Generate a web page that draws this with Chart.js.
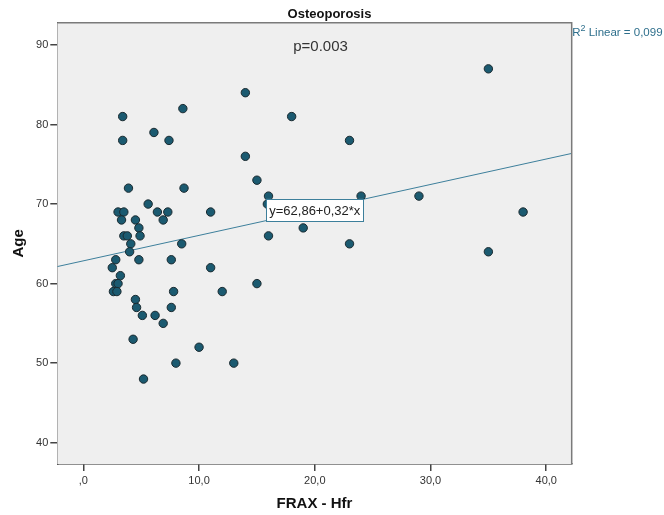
<!DOCTYPE html>
<html>
<head>
<meta charset="utf-8">
<script src="https://cdn.jsdelivr.net/npm/chart.js@4"></script>
<style>
  html, body { margin: 0; padding: 0; background: #ffffff; }
  #wrap { width: 664px; height: 515px; position: relative; }
</style>
</head>
<body>
<div id="wrap"><canvas id="chart" width="664" height="515"></canvas></div>
<script>
// FRAX hip-fracture risk vs. age, osteoporosis group
const frax = [3.4, 8.6, 14, 6.1, 3.4, 7.4, 14, 15, 3.9, 8.7, 5.6, 3.0, 3.5, 6.4, 7.3, 11,
  3.3, 4.5, 6.9, 4.8, 3.5, 3.8, 4.9, 8.5, 4.1, 4.0, 2.8, 4.8, 7.6, 2.5, 11, 3.2,
  2.8, 3.0, 15, 2.6, 2.9, 7.8, 12, 4.5, 4.6, 7.6, 5.1, 6.2, 6.9, 4.3, 10, 8, 13, 5.2,
  35, 18, 23, 16, 15.9, 24, 29, 38, 19, 16, 23, 35];
const age = [81, 82, 84, 79, 78, 78, 76, 73, 72, 72, 70, 69, 69, 69, 69, 69,
  68, 68, 68, 67, 66, 66, 66, 65, 65, 64, 63, 63, 63, 62, 62, 61,
  60, 60, 60, 59, 59, 59, 59, 58, 57, 57, 56, 56, 55, 53, 52, 50, 50, 48,
  87, 81, 78, 71, 70, 71, 71, 69, 67, 66, 65, 64];

// Linear fit as reported: y = 62,86 + 0,32*x
const fitIntercept = 62.86;
const fitSlope = 0.32;
const fitLabel = 'y=62,86+0,32*x';
const fitLabelAt = 20;
const rSquaredText = ' Linear = 0,099';
const pValueText = 'p=0.003';

const xTicks = [0, 10, 20, 30, 40];
const xTickLabels = [',0', '10,0', '20,0', '30,0', '40,0'];
const yTicks = [40, 50, 60, 70, 80, 90];

const xRange = [-2.25, 42.2];
const yRange = [37.32, 92.8];

const FONT = "Arial, 'Liberation Sans', sans-serif";
const teal = '#3d7f9b';

const points = frax.map((x, i) => ({ x: x, y: age[i] }));
const fitLine = xRange.map(x => ({ x: x, y: fitIntercept + fitSlope * x }));

const decor = {
  id: 'decor',
  beforeDatasetsDraw(chart) {
    const { ctx, chartArea: a } = chart;
    ctx.save();
    ctx.fillStyle = '#efefef';
    ctx.fillRect(a.left, a.top, a.right - a.left, a.bottom - a.top);
    ctx.restore();
  },
  afterDatasetsDraw(chart) {
    const { ctx, chartArea: a, scales } = chart;
    ctx.save();
    // frame top and right
    ctx.strokeStyle = '#7a7a7a';
    ctx.lineWidth = 1.5;
    ctx.beginPath();
    ctx.moveTo(a.left, a.top);
    ctx.lineTo(a.right, a.top);
    ctx.lineTo(a.right, a.bottom);
    ctx.stroke();

    // chart title
    ctx.fillStyle = '#111';
    ctx.font = 'bold 13px ' + FONT;
    ctx.textAlign = 'center';
    ctx.textBaseline = 'middle';
    ctx.fillText('Osteoporosis', 329.5, 14);

    // p value
    ctx.fillStyle = '#333';
    ctx.font = '15px ' + FONT;
    ctx.fillText(pValueText, 320.5, 47);

    // fit equation box on the line
    const bx = scales.x.getPixelForValue(fitLabelAt);
    const by = scales.y.getPixelForValue(fitIntercept + fitSlope * fitLabelAt);
    ctx.font = '13px ' + FONT;
    const tw = ctx.measureText(fitLabel).width;
    const bw = tw + 6, bh = 22;
    ctx.fillStyle = '#ffffff';
    ctx.fillRect(bx - bw / 2, by - bh / 2, bw, bh);
    ctx.strokeStyle = teal;
    ctx.lineWidth = 1;
    ctx.strokeRect(Math.round(bx - bw / 2) + 0.5, Math.round(by - bh / 2) + 0.5, Math.round(bw), bh);
    ctx.fillStyle = '#222';
    ctx.fillText(fitLabel, bx, by + 1);

    // R squared label
    ctx.textAlign = 'left';
    ctx.textBaseline = 'alphabetic';
    ctx.fillStyle = '#2e6f8c';
    ctx.font = '11.5px ' + FONT;
    let tx = a.right + 0.5;
    ctx.fillText('R', tx, 36);
    tx += ctx.measureText('R').width;
    ctx.font = '9px ' + FONT;
    ctx.fillText('2', tx, 31);
    tx += ctx.measureText('2').width;
    ctx.font = '11.5px ' + FONT;
    ctx.fillText(rSquaredText, tx, 36);
    ctx.restore();
  }
};

new Chart(document.getElementById('chart'), {
  type: 'scatter',
  data: {
    datasets: [
      {
        type: 'line',
        data: fitLine,
        borderColor: teal,
        borderWidth: 1,
        pointRadius: 0,
        fill: false,
        order: 2
      },
      {
        data: points,
        backgroundColor: '#1b5a70',
        borderColor: '#1a2a30',
        borderWidth: 1,
        pointRadius: 4.2,
        order: 1
      }
    ]
  },
  options: {
    responsive: false,
    animation: false,
    devicePixelRatio: 1,
    layout: { padding: { left: 0, top: 22.7, right: 92.3, bottom: 0 } },
    plugins: { legend: { display: false }, tooltip: { enabled: false } },
    scales: {
      x: {
        type: 'linear',
        min: xRange[0],
        max: xRange[1],
        afterBuildTicks: s => { s.ticks = xTicks.map(v => ({ value: v })); },
        afterFit: s => { s.height = 51; },
        ticks: {
          callback: (v) => xTickLabels[xTicks.indexOf(v)],
          font: { family: FONT, size: 11 },
          color: '#333',
          padding: 3,
          maxRotation: 0
        },
        grid: { drawOnChartArea: false, drawTicks: true, tickLength: 7, color: '#444', lineWidth: 1.5 },
        border: { color: '#222', width: 1.5 },
        title: {
          display: true,
          text: 'FRAX - Hfr',
          font: { family: FONT, size: 15, weight: 'bold' },
          color: '#111',
          padding: { top: 0, bottom: 2 }
        }
      },
      y: {
        type: 'linear',
        min: yRange[0],
        max: yRange[1],
        afterBuildTicks: s => { s.ticks = yTicks.map(v => ({ value: v })); },
        afterFit: s => { s.width = 57.3; },
        ticks: {
          font: { family: FONT, size: 11 },
          color: '#333',
          padding: 2
        },
        grid: { drawOnChartArea: false, drawTicks: true, tickLength: 7, color: '#444', lineWidth: 1.5 },
        border: { color: '#222', width: 1.5 },
        title: {
          display: true,
          text: 'Age',
          font: { family: FONT, size: 15, weight: 'bold' },
          color: '#111',
          padding: { top: 10, bottom: 0 }
        }
      }
    }
  },
  plugins: [decor]
});
</script>
</body>
</html>
